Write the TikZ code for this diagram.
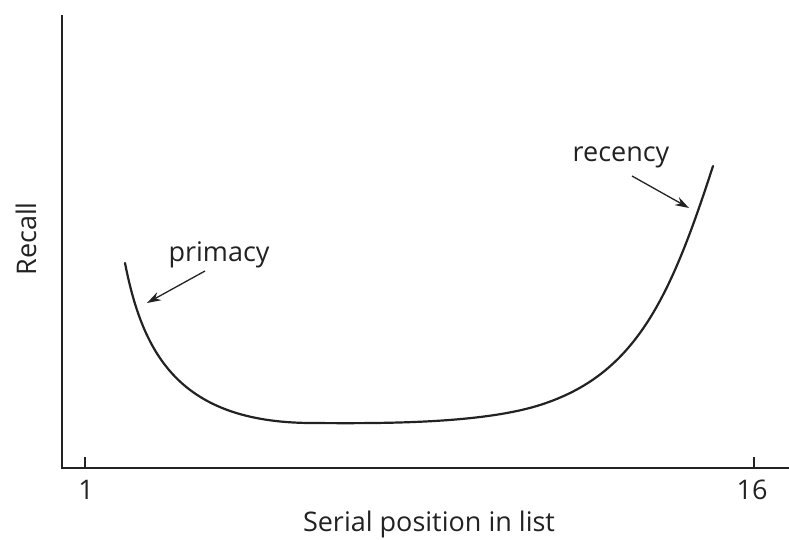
\documentclass[tikz,border=0pt]{standalone}
\usepackage{fontspec}
\setmainfont{Open Sans}
\usetikzlibrary{arrows.meta}
\definecolor{ink}{HTML}{222222}
\begin{document}
\begin{tikzpicture}[x=1pt,y=-1pt,
  axis/.style={draw=ink,line width=1.6pt},
  curveline/.style={draw=ink,line width=2.2pt,line cap=round},
  pointer/.style={draw=ink,line width=1.3pt,-{Stealth[length=14pt,width=9pt]}},
  lbl/.style={text=ink,font=\fontsize{27}{32}\selectfont,inner sep=0pt}]
\useasboundingbox (0,0) rectangle (789,540);
% axes
\coordinate (origin) at (62,468);
\coordinate (ytop) at (62,15);
\coordinate (xend) at (789,468);
\draw[axis] (ytop) -- (origin) -- (xend);
% ticks
\coordinate (t1) at (85,468);
\coordinate (t16) at (754,468);
\draw[axis] (t1) -- ++(0,-11);
\draw[axis] (t16) -- ++(0,-11);
\node[lbl] (n1) at (86,490) {1};
\node[lbl] (n16) at (752,490) {16};
% axis titles
\node[lbl] (xlab) at (429,524) {Serial position in list};
\node[lbl,rotate=90] (ylab) at (26,239) {Recall};
% serial position curve: steep primacy drop, flat middle, recency rise
\coordinate (cstart) at (125,263);
\coordinate (cleft) at (310,423);
\coordinate (cright) at (540,405);
\coordinate (cend) at (713,166);
\draw[curveline] (cstart)
  .. controls (143,355) and (180,422) .. (cleft)
  .. controls (380,423.5) and (480,424) .. (cright)
  .. controls (635.2,374.8) and (669.9,299.3) .. (cend);
% labels with pointers
\node[lbl] (primacy) at (219,255) {primacy};
\node[lbl] (recency) at (621,157) {recency};
\coordinate (pfrom) at (205,271);
\coordinate (ptip) at (147,303);
\coordinate (rfrom) at (632,176);
\coordinate (rtip) at (689,208);
\draw[pointer] (pfrom) -- (ptip);
\draw[pointer] (rfrom) -- (rtip);
\end{tikzpicture}
\end{document}
